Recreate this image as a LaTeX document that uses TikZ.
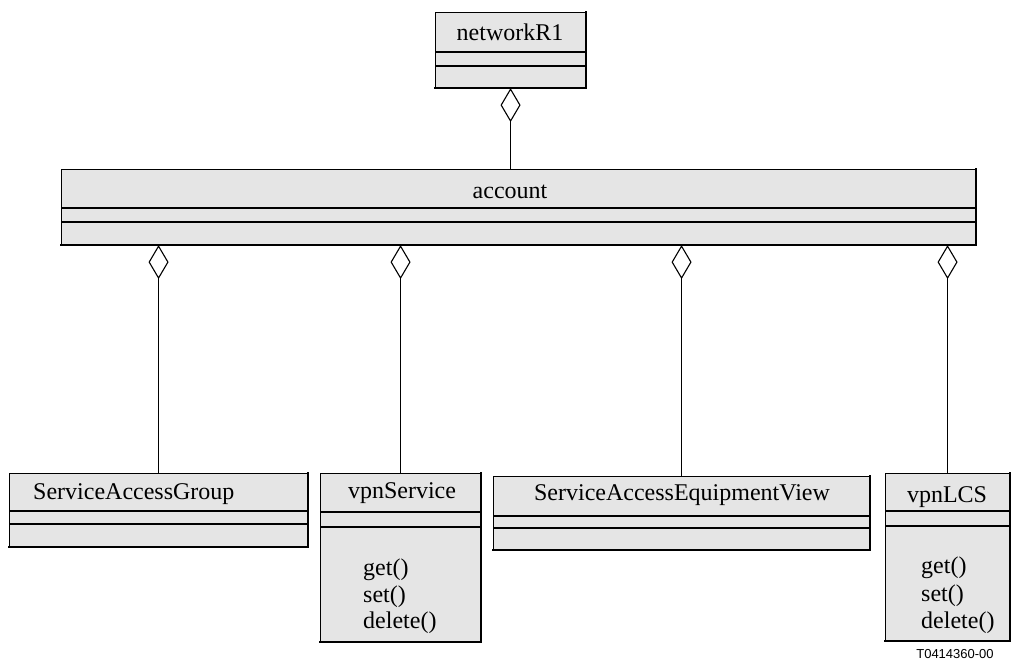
\documentclass[tikz,border=0pt]{standalone}
\usepackage{fontspec}
\setmainfont{Liberation Serif}
\newfontfamily\figfont{Liberation Sans}
\usetikzlibrary{arrows.meta}
\definecolor{boxgray}{RGB}{229,229,229}
\begin{document}
\begin{tikzpicture}[x=1pt,y=-1pt,
  classbox/.style={draw=black, line width=1.1pt, fill=boxgray, inner sep=0pt, anchor=north west},
  heavy/.style={line width=1.9pt, line cap=rect},
  divider/.style={line width=1.1pt},
  txt/.style={font=\fontsize{24}{28}\selectfont, inner sep=0pt},
  mtxt/.style={font=\fontsize{24}{28}\selectfont, inner sep=0pt, anchor=west},
  agg/.style={line width=1pt, {Diamond[open, length=34pt, width=20pt, line width=1.1pt]}-},
]
\useasboundingbox (0,0) rectangle (1012,664);

% networkR1
\node[classbox, minimum width=150pt, minimum height=75pt] (net) at (435,12) {};
\draw[heavy] (net.north east) -- (net.south east) -- (net.south west);
\draw[divider] (435,52) -- (585,52);
\draw[divider] (435,66) -- (585,66);
\node[txt] (netname) at (510,32) {networkR1};

% account
\node[classbox, minimum width=914pt, minimum height=75pt] (acc) at (61,169) {};
\draw[heavy] (acc.north east) -- (acc.south east) -- (acc.south west);
\draw[divider] (61,208) -- (975,208);
\draw[divider] (61,222) -- (975,222);
\node[txt] (accname) at (510,192) {account};

% ServiceAccessGroup
\node[classbox, minimum width=298pt, minimum height=73pt] (sag) at (9,473) {};
\draw[heavy] (sag.north east) -- (sag.south east) -- (sag.south west);
\draw[divider] (9,511) -- (307,511);
\draw[divider] (9,524) -- (307,524);
\node[mtxt] (sagname) at (33,494) {ServiceAccessGroup};

% vpnService
\node[classbox, minimum width=160pt, minimum height=168pt] (vpns) at (320,473) {};
\draw[heavy] (vpns.north east) -- (vpns.south east) -- (vpns.south west);
\draw[divider] (320,512) -- (480,512);
\draw[divider] (320,527) -- (480,527);
\node[txt] (vpnsname) at (402,493) {vpnService};
\node[mtxt] (vpnsget) at (363,570) {get()};
\node[mtxt] (vpnsset) at (363,597) {set()};
\node[mtxt] (vpnsdel) at (363,623) {delete()};

% ServiceAccessEquipmentView
\node[classbox, minimum width=376pt, minimum height=73pt] (saev) at (493,476) {};
\draw[heavy] (saev.north east) -- (saev.south east) -- (saev.south west);
\draw[divider] (493,516) -- (869,516);
\draw[divider] (493,528) -- (869,528);
\node[txt] (saevname) at (682,495) {ServiceAccessEquipmentView};

% vpnLCS
\node[classbox, minimum width=124pt, minimum height=167pt] (lcs) at (885,473) {};
\draw[heavy] (lcs.north east) -- (lcs.south east) -- (lcs.south west);
\draw[divider] (885,511) -- (1009,511);
\draw[divider] (885,526) -- (1009,526);
\node[txt] (lcsname) at (947,497) {vpnLCS};
\node[mtxt] (lcsget) at (921,568) {get()};
\node[mtxt] (lcsset) at (921,596) {set()};
\node[mtxt] (lcsdel) at (921,623) {delete()};

% aggregations
\draw[agg] (net.south) -- (acc.north -| net.south);
\draw[agg] (acc.south -| sag.north) -- (sag.north);
\draw[agg] (acc.south -| vpns.north) -- (vpns.north);
\draw[agg] (acc.south -| saev.north) -- (saev.north);
\draw[agg] (acc.south -| lcs.north) -- (lcs.north);

\node[font=\figfont\fontsize{13}{15}\selectfont, inner sep=0pt] (figid) at (955,654) {T0414360-00};
\end{tikzpicture}
\end{document}
